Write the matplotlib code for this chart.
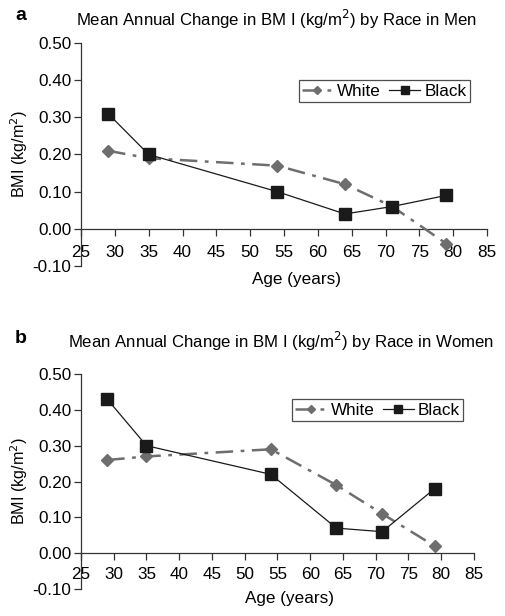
import matplotlib
matplotlib.use("Agg")
import matplotlib.pyplot as plt

plt.rcParams['font.family'] = ['Liberation Sans', 'DejaVu Sans']

ages = [29, 35, 54, 64, 71, 79]
men_white = [0.21, 0.19, 0.17, 0.12, 0.06, -0.04]
men_black = [0.31, 0.20, 0.10, 0.04, 0.06, 0.09]
women_white = [0.26, 0.27, 0.29, 0.19, 0.11, 0.02]
women_black = [0.43, 0.30, 0.22, 0.07, 0.06, 0.18]
xticks = [25, 30, 35, 40, 45, 50, 55, 60, 65, 70, 75, 80, 85]
yticks = [-0.10, 0.00, 0.10, 0.20, 0.30, 0.40, 0.50]

fig = plt.figure(figsize=(5.05, 6.16), dpi=100)

panels = [
    (fig.add_axes([0.1604, 0.5682, 0.804, 0.362]), men_white, men_black,
     "Mean Annual Change in BM I (kg/m$^2$) by Race in Men", "a",
     (0.761, 0.852), -0.025, 7),
    (fig.add_axes([0.1604, 0.0438, 0.778, 0.349]), women_white, women_black,
     "Mean Annual Change in BM I (kg/m$^2$) by Race in Women", "b",
     (0.748, 0.334), -0.01, 5),
]

for ax, white, black, title, letter, legpos, xly, xpad in panels:
    lw, = ax.plot(ages, white, color='#6e6e6e', linestyle=(0, (7, 3, 1.5, 3)),
                  linewidth=1.8, marker='D', markersize=6, label='White', zorder=3)
    lb, = ax.plot(ages, black, color='#1a1a1a', linestyle='-', linewidth=0.9,
                  marker='s', markersize=8, label='Black', zorder=4)
    ax.set_xlim(25, 85)
    ax.set_ylim(-0.10, 0.50)
    ax.set_xticks(xticks)
    ax.set_yticks(yticks)
    ax.set_yticklabels([f"{v:.2f}" for v in yticks])
    ax.spines['top'].set_visible(False)
    ax.spines['right'].set_visible(False)
    ax.spines['bottom'].set_position(('data', 0))
    for s in ('left', 'bottom'):
        ax.spines[s].set_color('#333333')
        ax.spines[s].set_linewidth(0.9)
    ax.tick_params(axis='both', labelsize=12.3, color='#333333', length=5,
                   width=0.9, direction='out', pad=2)
    ax.tick_params(axis='x', pad=xpad)
    ax.set_ylabel("BMI (kg/m$^2$)", fontsize=11.6, labelpad=2)
    ax.set_xlabel("Age (years)", fontsize=12.3)
    ax.xaxis.set_label_coords(0.53, xly)
    leg = ax.legend(handles=[lw, lb], ncol=2, loc='center',
                    bbox_to_anchor=legpos, bbox_transform=fig.transFigure,
                    frameon=True, fancybox=False, fontsize=12.3,
                    handlelength=1.8, handletextpad=0.25, columnspacing=0.5,
                    borderpad=0.2, borderaxespad=0, markerscale=0.75)
    leg.get_frame().set_edgecolor('#222222')
    leg.get_frame().set_linewidth(0.9)

# titles and panel letters
fig.text(0.547, 0.969, panels[0][3], ha='center', va='center', fontsize=12.1)
fig.text(0.030, 0.975, "a", ha='left', va='center', fontsize=14, fontweight='bold')
fig.text(0.556, 0.446, panels[1][3], ha='center', va='center', fontsize=12.1)
fig.text(0.030, 0.450, "b", ha='left', va='center', fontsize=14, fontweight='bold')

fig.savefig("out.png", dpi=100)
